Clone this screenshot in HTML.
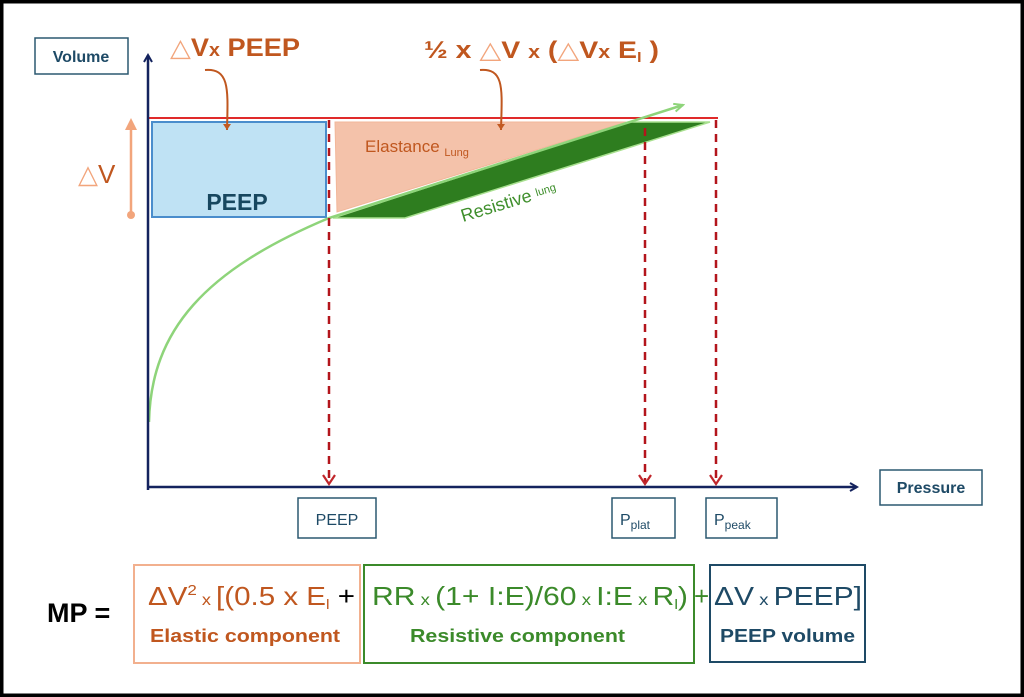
<!DOCTYPE html>
<html><head><meta charset="utf-8"><style>
html,body{margin:0;padding:0;background:#fff}
svg{display:block}
text{font-family:"Liberation Sans",sans-serif}
</style></head><body>
<svg width="1024" height="697" viewBox="0 0 1024 697" xmlns="http://www.w3.org/2000/svg">
<defs>
<marker id="ab" markerWidth="10" markerHeight="10" refX="8" refY="5" orient="auto" markerUnits="userSpaceOnUse"><path d="M1,1 L8,5 L1,9" fill="none" stroke="#14235e" stroke-width="2"/></marker>
<marker id="ar" markerWidth="16" markerHeight="16" refX="8" refY="14" markerUnits="userSpaceOnUse"><path d="M2,5 L8,14 L14,5" fill="none" stroke="#c0262b" stroke-width="2.2"/></marker>
<marker id="ao" markerWidth="10" markerHeight="10" refX="5" refY="8" markerUnits="userSpaceOnUse"><path d="M1,2 L5,8 L9,2 Z" fill="#c25a22"/></marker>
<marker id="ag" markerWidth="12" markerHeight="10" refX="10" refY="5" orient="auto" markerUnits="userSpaceOnUse"><path d="M1,1 L10,5 L1,9" fill="none" stroke="#8ed47a" stroke-width="2"/></marker>
</defs>
<rect x="1.5" y="1.5" width="1021" height="694" fill="#fff" stroke="#000" stroke-width="4"/>
<rect x="35" y="38" width="93" height="36" fill="#fff" stroke="#2b5870" stroke-width="1.5"/>
<text x="81" y="62" font-size="16" font-weight="bold" fill="#1e4a66" text-anchor="middle">Volume</text>
<polygon points="335,122 626,122 337,212" fill="#f4c2aa" stroke="#f2b79a" stroke-width="1"/>
<rect x="152" y="122" width="174" height="95" fill="#bfe2f4" stroke="#4a8dcc" stroke-width="2"/>
<text x="237" y="210" font-size="23" font-weight="bold" fill="#17475f" text-anchor="middle">PEEP</text>
<line x1="148" y1="118" x2="718" y2="118" stroke="#e02a2a" stroke-width="2"/>
<polygon points="333,218 405,218 710,122 628,122" fill="#2e7d1f" stroke="#a8e08f" stroke-width="1.5"/>
<path d="M149,422 C151,330 205,270 329,218 L683,105" fill="none" stroke="#8ed47a" stroke-width="2.5" marker-end="url(#ag)"/>
<line x1="148" y1="490" x2="148" y2="55" stroke="#14235e" stroke-width="2.5" marker-end="url(#ab)"/>
<line x1="147" y1="487" x2="857" y2="487" stroke="#14235e" stroke-width="2.5" marker-end="url(#ab)"/>
<g stroke="#b3151c" stroke-width="2.5" stroke-dasharray="8,6" fill="none">
<line x1="329" y1="120" x2="329" y2="484" marker-end="url(#ar)"/>
<line x1="645" y1="128" x2="645" y2="484" marker-end="url(#ar)"/>
<line x1="716" y1="120" x2="716" y2="484" marker-end="url(#ar)"/>
</g>
<text x="365" y="152" font-size="17" fill="#c0571f">Elastance <tspan font-size="11" dy="4">Lung</tspan></text>
<text x="0" y="0" font-size="18" fill="#3f8f2c" transform="translate(463,222) rotate(-17)">Resistive <tspan font-size="11" dy="-3">lung</tspan></text>
<line x1="131" y1="212" x2="131" y2="122" stroke="#f2a57c" stroke-width="2.5"/>
<path d="M125,130 L131,118 L137,130 Z" fill="#f2a57c"/>
<circle cx="131" cy="215" r="4" fill="#f2a57c"/>
<text x="78" y="183" font-size="26" fill="#c0571f"><tspan fill="#f2a57c">△</tspan>V</text>
<text x="170" y="56" font-size="25" font-weight="bold" fill="#c0571f" textLength="130" lengthAdjust="spacingAndGlyphs"><tspan fill="#f2a57c" font-weight="normal">△</tspan>V<tspan font-size="18">x</tspan> PEEP</text>
<path d="M205,70 C230,68 228,90 227,130" fill="none" stroke="#c0571f" stroke-width="2" marker-end="url(#ao)"/>
<text x="424" y="58" font-size="24" font-weight="bold" fill="#c0571f" textLength="235" lengthAdjust="spacingAndGlyphs">½ x <tspan fill="#f2a57c" font-weight="normal">△</tspan>V <tspan font-size="18">x</tspan> (<tspan fill="#f2a57c" font-weight="normal">△</tspan>V<tspan font-size="18">x</tspan> E<tspan font-size="14" dy="4">l</tspan><tspan dy="-4"> )</tspan></text>
<path d="M480,70 C505,68 502,90 501,130" fill="none" stroke="#c0571f" stroke-width="2" marker-end="url(#ao)"/>
<g fill="#fff" stroke="#2b5870" stroke-width="1.5">
<rect x="880" y="470" width="102" height="35"/>
<rect x="298" y="498" width="78" height="40"/>
<rect x="612" y="498" width="63" height="40"/>
<rect x="706" y="498" width="71" height="40"/>
</g>
<text x="931" y="493" font-size="16" font-weight="bold" fill="#1e4a66" text-anchor="middle">Pressure</text>
<text x="337" y="525" font-size="16" fill="#1e4a66" text-anchor="middle">PEEP</text>
<text x="620" y="525" font-size="16" fill="#1e4a66">P<tspan font-size="12" dy="4">plat</tspan></text>
<text x="714" y="525" font-size="16" fill="#1e4a66">P<tspan font-size="12" dy="4">peak</tspan></text>
<text x="47" y="622" font-size="27" font-weight="bold" fill="#000">MP =</text>
<rect x="134" y="565" width="226" height="98" fill="#fff" stroke="#f2b08e" stroke-width="2"/>
<rect x="364" y="565" width="330" height="98" fill="#fff" stroke="#3b8a2a" stroke-width="2"/>
<rect x="710" y="565" width="155" height="97" fill="#fff" stroke="#1e4a66" stroke-width="2"/>
<text x="148" y="605" font-size="26" fill="#c0571f" textLength="207" lengthAdjust="spacingAndGlyphs">ΔV<tspan font-size="15" dy="-10">2</tspan><tspan font-size="16" dy="10"> x </tspan>[(0.5 x E<tspan font-size="14" dy="4">l</tspan><tspan dy="-4" fill="#000"> +</tspan></text>
<text x="372" y="605" font-size="26" fill="#3b8a2a" textLength="316" lengthAdjust="spacingAndGlyphs">RR<tspan font-size="16"> x </tspan>(1+ I:E)/60<tspan font-size="16"> x </tspan>I:E<tspan font-size="16"> x </tspan>R<tspan font-size="14" dy="4">l</tspan><tspan dy="-4">)</tspan></text>
<text x="694" y="605" font-size="26" fill="#3b8a2a">+</text>
<text x="714" y="605" font-size="26" fill="#1e4a66" textLength="148" lengthAdjust="spacingAndGlyphs">ΔV<tspan font-size="16"> x </tspan>PEEP]</text>
<text x="150" y="642" font-size="18" font-weight="bold" fill="#c0571f" textLength="190" lengthAdjust="spacingAndGlyphs">Elastic component</text>
<text x="410" y="642" font-size="18" font-weight="bold" fill="#3b8a2a" textLength="215" lengthAdjust="spacingAndGlyphs">Resistive component</text>
<text x="720" y="642" font-size="18" font-weight="bold" fill="#1e4a66" textLength="135" lengthAdjust="spacingAndGlyphs">PEEP volume</text>
</svg>
</body></html>
